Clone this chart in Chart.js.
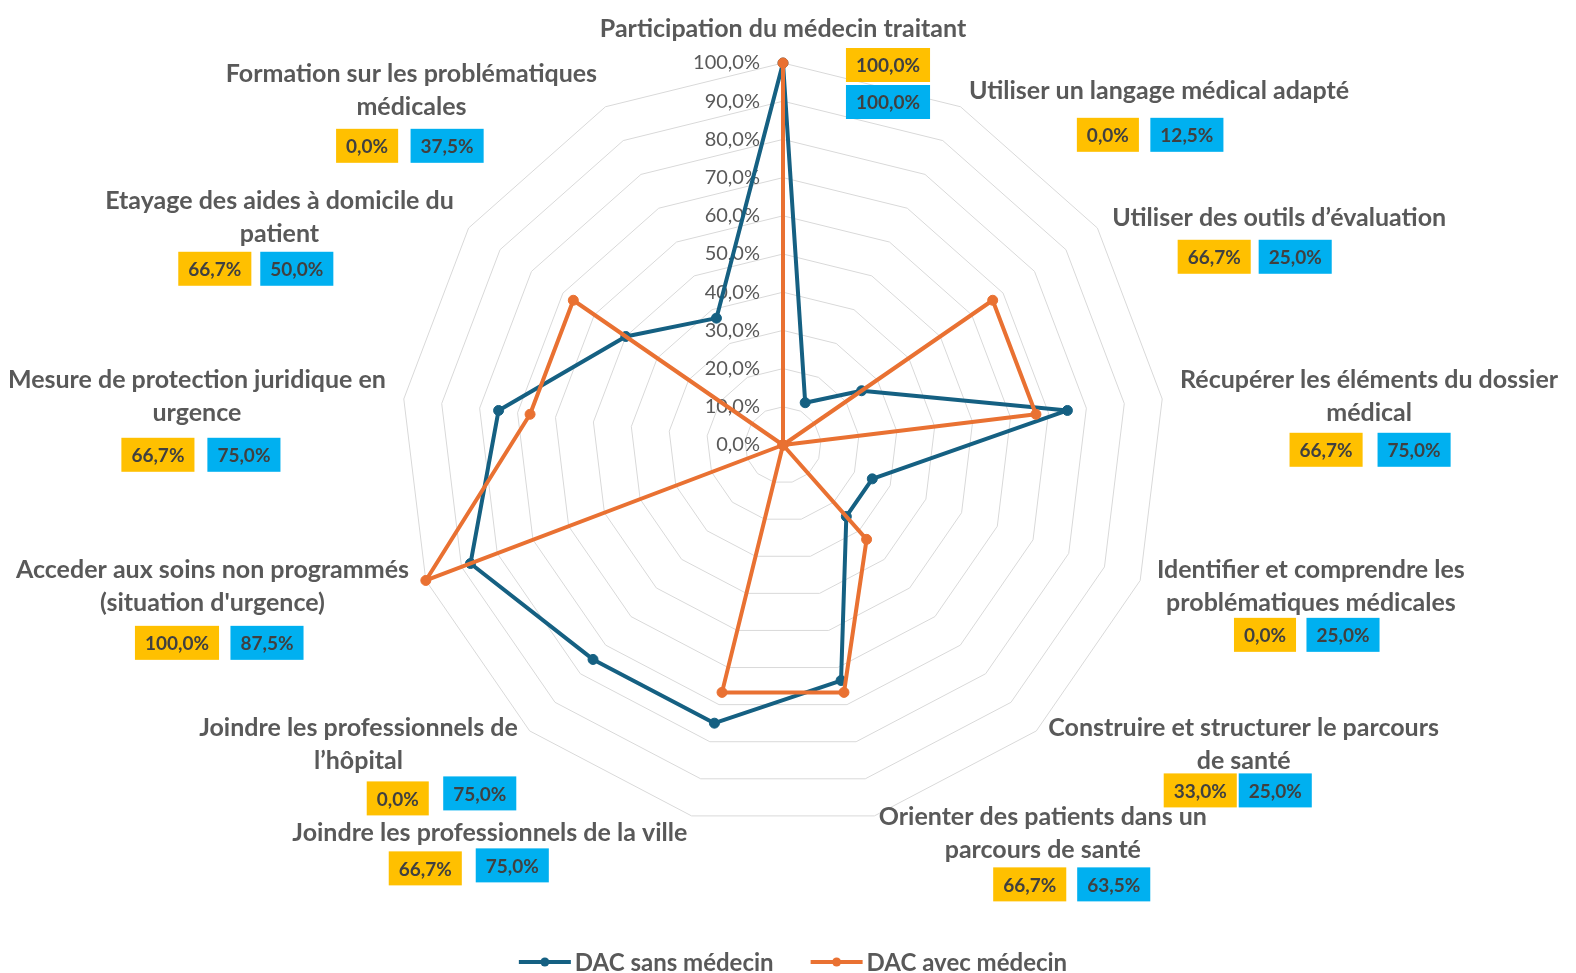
<!DOCTYPE html>
<html lang="fr">
<head>
<meta charset="utf-8">
<title>DAC sans / avec médecin</title>
<script src="https://cdn.jsdelivr.net/npm/chart.js@4.4.1/dist/chart.umd.min.js"></script>
<style>
  html, body { margin: 0; padding: 0; background: #ffffff; }
  canvas { display: block; }
</style>
</head>
<body>
<canvas id="radar-chart" width="1576" height="973"></canvas>
<script>
const categories = [
  "Participation du médecin traitant",
  "Utiliser un langage médical adapté",
  "Utiliser des outils d’évaluation",
  ["Récupérer les éléments du dossier", "médical"],
  ["Identifier et comprendre les", "problématiques médicales"],
  ["Construire et structurer le parcours", "de santé"],
  ["Orienter des patients dans un", "parcours de santé"],
  "Joindre les professionnels de la ville",
  ["Joindre les professionnels de", "l’hôpital"],
  ["Acceder aux soins non programmés", "(situation d'urgence)"],
  ["Mesure de protection juridique en", "urgence"],
  ["Etayage des aides à domicile du", "patient"],
  ["Formation sur les problématiques", "médicales"],
];

const sansMedecin = [100, 12.5, 25, 75, 25, 25, 63.5, 75, 75, 87.5, 75, 50, 37.5];
const avecMedecin = [100, 0, 66.7, 66.7, 0, 33, 66.7, 66.7, 0, 100, 66.7, 66.7, 0];

const seriesNames = ["DAC sans médecin", "DAC avec médecin"];
const seriesColors = ["#156082", "#E97132"];

// value tags next to each axis label: [yellowDx, yellowDy, blueDx, blueDy]
// measured from the label anchor, tags were nudged by hand
const tagOffsets = [
  [105, 20, 105, 57],
  [139, 44, 218, 44],
  [102, 39, 183, 39],
  [146, 53, 234, 53],
  [108, 48, 186, 48],
  [152, 46, 227, 46],
  [151, 51, 235, 51],
  [-262, 35, -175, 32],
  [-120, 54, -38, 49],
  [-232, 56, -142, 56],
  [-228, 58, -142, 58],
  [-239, 51, -157, 51],
  [-230, 55, -150, 55],
];

const FONT = "Lato";
const TEXT_GREY = "#595959";

function formatPercent(value) {
  return value.toFixed(1).replace(".", ",") + "%";
}

// percent ticks sit left of the vertical axis, under the lines
const tickLabelsPlugin = {
  id: "tickLabels",
  beforeDatasetsDraw(chart) {
    const scale = chart.scales.r;
    const ctx = chart.ctx;
    ctx.save();
    ctx.font = `400 20px ${FONT}`;
    ctx.fillStyle = TEXT_GREY;
    ctx.textAlign = "right";
    ctx.textBaseline = "middle";
    scale.ticks.forEach((tick) => {
      const y = scale.yCenter - scale.getDistanceFromCenterForValue(tick.value);
      ctx.fillText(formatPercent(tick.value), scale.xCenter - 23, y);
    });
    ctx.restore();
  },
};

function drawTag(ctx, text, cx, cy, color) {
  const w = ctx.measureText(text).width + 20;
  const h = 34;
  ctx.fillStyle = color;
  ctx.fillRect(cx - w / 2, cy - h / 2, w, h);
  ctx.fillStyle = "#404040";
  ctx.fillText(text, cx, cy + 1);
}

// axis names (excel style: block beside the axis end, lines centred)
const axisLabelsPlugin = {
  id: "axisLabels",
  afterDraw(chart) {
    const scale = chart.scales.r;
    const ctx = chart.ctx;
    const lineHeight = 33;
    ctx.save();
    ctx.textBaseline = "middle";
    ctx.textAlign = "center";

    categories.forEach((label, i) => {
      const lines = Array.isArray(label) ? label : [label];
      const pos = scale.getPointPosition(i, scale.drawingArea + 18);
      const angle = (i * 360) / categories.length;

      ctx.font = `700 25px ${FONT}`;
      ctx.fillStyle = TEXT_GREY;
      const width = Math.max(...lines.map((l) => ctx.measureText(l).width));
      const height = lines.length * lineHeight;

      let left = pos.x - width / 2;
      if (angle > 0 && angle < 180) left = pos.x;
      if (angle > 180) left = pos.x - width;
      const top = angle === 0 ? pos.y - height : pos.y - height / 2;

      lines.forEach((line, j) => {
        ctx.fillText(line, left + width / 2, top + lineHeight * (j + 0.5));
      });

      const [yx, yy, bx, by] = tagOffsets[i];
      ctx.font = `700 19px ${FONT}`;
      drawTag(ctx, formatPercent(avecMedecin[i]), pos.x + yx, pos.y + yy, "#FFC000");
      drawTag(ctx, formatPercent(sansMedecin[i]), pos.x + bx, pos.y + by, "#00B0F0");
    });
    ctx.restore();
  },
};

// line + dot legend under the chart
const lineLegendPlugin = {
  id: "lineLegend",
  afterDraw(chart) {
    const ctx = chart.ctx;
    const datasets = chart.data.datasets;
    const markerWidth = 52;
    const textGap = 4;
    const itemGap = 37;
    const y = chart.height - 11;

    ctx.save();
    ctx.font = `700 24px ${FONT}`;
    ctx.textBaseline = "middle";
    ctx.textAlign = "left";

    const widths = datasets.map((ds) => markerWidth + textGap + ctx.measureText(ds.label).width);
    const total = widths.reduce((sum, w) => sum + w, 0) + itemGap * (datasets.length - 1);
    let x = chart.scales.r.xCenter + 10 - total / 2;

    datasets.forEach((ds, i) => {
      ctx.strokeStyle = ds.borderColor;
      ctx.lineWidth = 4;
      ctx.beginPath();
      ctx.moveTo(x, y);
      ctx.lineTo(x + markerWidth, y);
      ctx.stroke();
      ctx.fillStyle = ds.borderColor;
      ctx.beginPath();
      ctx.arc(x + markerWidth / 2, y, 4.5, 0, Math.PI * 2);
      ctx.fill();

      ctx.fillStyle = TEXT_GREY;
      ctx.fillText(ds.label, x + markerWidth + textGap, y + 1);
      x += widths[i] + itemGap;
    });
    ctx.restore();
  },
};

function makeDataset(label, data, color, order) {
  return {
    label: label,
    data: data,
    order: order,
    borderColor: color,
    backgroundColor: color,
    borderWidth: 4,
    borderJoinStyle: "round",
    fill: false,
    pointRadius: 5,
    pointBorderWidth: 1,
    pointBackgroundColor: color,
    pointBorderColor: color,
  };
}

const ctx = document.getElementById("radar-chart").getContext("2d");

new Chart(ctx, {
  type: "radar",
  plugins: [tickLabelsPlugin, axisLabelsPlugin, lineLegendPlugin],
  data: {
    labels: categories,
    datasets: [
      makeDataset(seriesNames[0], sansMedecin, seriesColors[0], 2),
      makeDataset(seriesNames[1], avecMedecin, seriesColors[1], 1),
    ],
  },
  options: {
    responsive: false,
    animation: false,
    layout: {
      padding: { top: 0, bottom: 83, left: 401, right: 411 },
    },
    plugins: {
      tooltip: { enabled: false },
      legend: { display: false },
    },
    scales: {
      r: {
        min: 0,
        max: 100,
        ticks: { display: false, stepSize: 10 },
        grid: { color: "#D9D9D9", lineWidth: 1 },
        angleLines: { display: false },
        pointLabels: { display: false },
      },
    },
  },
});
</script>
</body>
</html>
